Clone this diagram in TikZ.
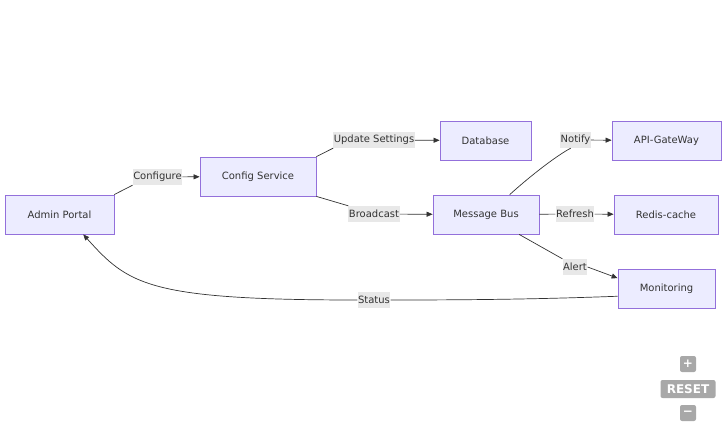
\documentclass[tikz,border=0pt]{standalone}
\usepackage{fontspec}
\setmainfont{DejaVu Sans}
\usetikzlibrary{arrows.meta}
\definecolor{boxfill}{HTML}{ECECFF}
\definecolor{boxline}{HTML}{9370DB}
\definecolor{edgeline}{HTML}{333333}
\definecolor{lblfill}{HTML}{E8E8E8}
\definecolor{ctrlgray}{HTML}{A8A8A8}

\tikzset{
  svc/.style={draw=boxline, fill=boxfill, line width=0.8pt, minimum height=39pt,
    inner sep=0pt, text=edgeline, font=\fontsize{10}{12}\selectfont},
  lbl/.style={fill=lblfill, inner xsep=0.5pt, inner ysep=0pt, minimum height=16pt,
    text=edgeline, font=\fontsize{10}{12}\selectfont},
  edge/.style={draw=edgeline, line width=0.7pt},
  arr/.style={edge, -{Triangle[length=6pt,width=5pt]}},
  ctrl/.style={fill=ctrlgray, rounded corners=2pt, text=white, inner sep=0pt,
    font=\fontsize{12}{13}\bfseries\selectfont}
}

\begin{document}
\begin{tikzpicture}[x=1pt,y=-1pt]
  \useasboundingbox (0,0) rectangle (727,430);
  \node[svc, minimum width=109pt] (admin) at (59.5,214.5) {Admin Portal};
  \node[svc, minimum width=116pt] (config) at (258,176.5) {Config Service};
  \node[svc, minimum width=91pt] (db) at (485.5,140.5) {Database};
  \node[svc, minimum width=106pt] (bus) at (486,214.5) {Message Bus};
  \node[svc, minimum width=109pt] (gw) at (666.5,140.5) {API-GateWay};
  \node[svc, minimum width=104pt] (redis) at (666,214.5) {Redis-cache};
  \node[svc, minimum width=97pt] (mon) at (666.5,288.5) {Monitoring};
  % edge labels
  \node[lbl] (lconf) at (157.5,177) {Configure};
  \node[lbl] (lupd) at (374,140) {Update Settings};
  \node[lbl] (lbc) at (374,214) {Broadcast};
  \node[lbl] (lnot) at (575.5,140) {Notify};
  \node[lbl] (lref) at (575,214) {Refresh};
  \node[lbl] (lal) at (575,267) {Alert};
  \node[lbl] (lst) at (374,300) {Status};
  % connectors
  \draw[edge] (admin.20) -- (lconf.south west);
  \draw[arr] (lconf) -- (config);
  \draw[edge] (config.north east) -- (lupd.south west);
  \draw[arr] (lupd) -- (db);
  \draw[edge] (config.south east) -- (lbc.north west);
  \draw[arr] (lbc) -- (bus);
  \draw[edge] (bus.40) .. controls +(22,-20) and +(-12,6) .. (lnot.-120);
  \draw[arr] (lnot) -- (gw);
  \draw[edge] (bus) -- (lref);
  \draw[arr] (lref) -- (redis);
  \draw[edge] (bus.-31) -- (lal.north west);
  \draw[arr] (lal.east) -- (mon.168);
  \draw[edge] (mon.189) .. controls +(-80,3) and +(80,0) .. (lst.east);
  \draw[arr] (lst.west) .. controls +(-210,0) and +(45,50) .. (admin.-40);
  % zoom controls
  \node[ctrl, minimum width=16pt, minimum height=16pt] (zin) at (688,364) {+};
  \node[ctrl, minimum width=55pt, minimum height=18pt] (zreset) at (688,389) {RESET};
  \node[ctrl, minimum width=16pt, minimum height=16pt] (zout) at (688,413) {\textminus};
\end{tikzpicture}
\end{document}
